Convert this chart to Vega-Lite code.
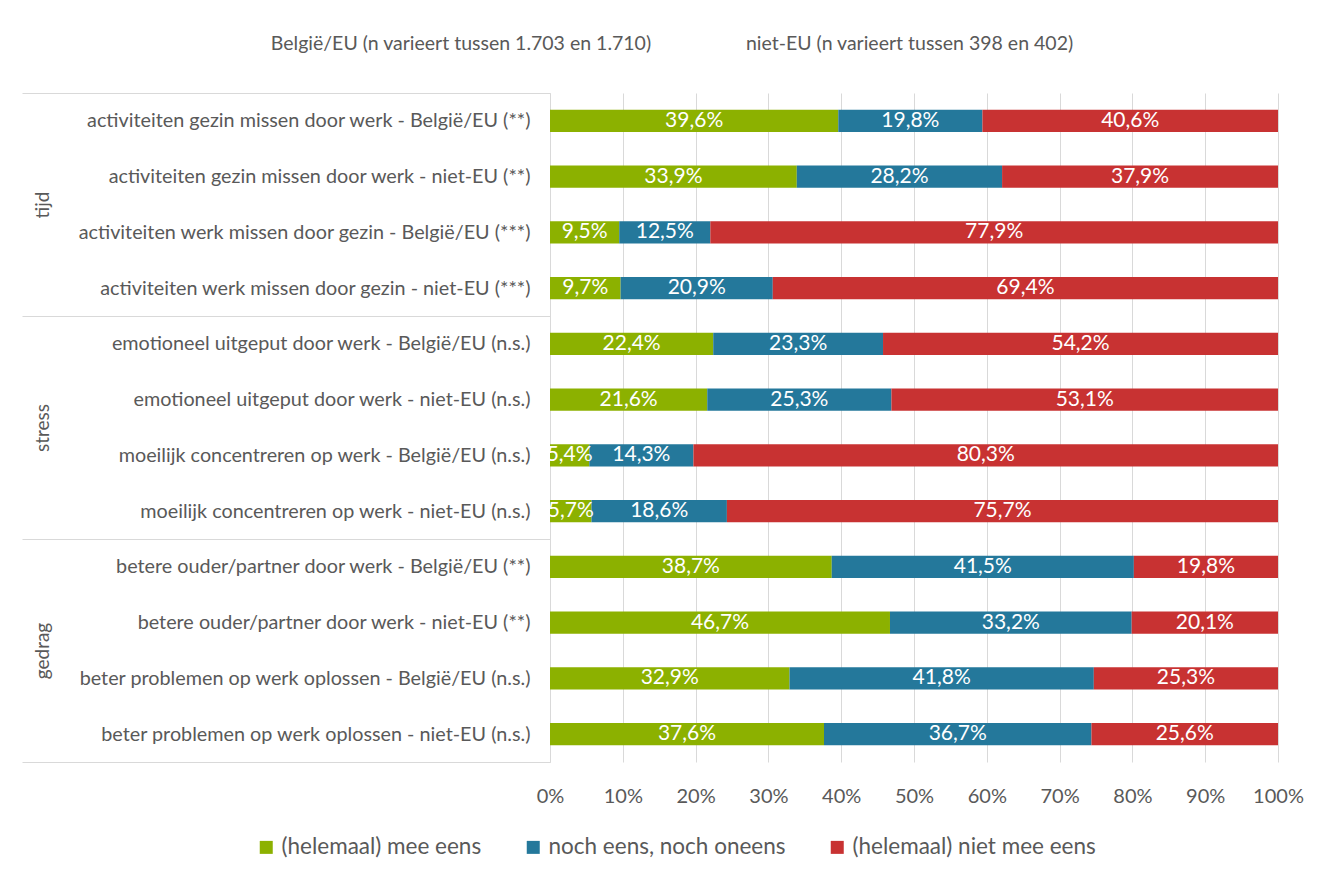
{
  "$schema": "https://vega.github.io/schema/vega-lite/v6.json",
  "autosize": {"type": "none"},
  "padding": {"left": 550, "top": 93, "right": 44, "bottom": 116},
  "width": 728,
  "height": 669,
  "background": "white",
  "title": {
    "text": "België/EU (n varieert tussen 1.703 en 1.710)\u00a0\u00a0\u00a0\u00a0\u00a0\u00a0\u00a0\u00a0\u00a0\u00a0\u00a0\u00a0\u00a0\u00a0\u00a0\u00a0\u00a0\u00a0\u00a0niet-EU (n varieert tussen 398 en 402)",
    "anchor": "middle",
    "frame": "group",
    "dx": -242,
    "offset": 29,
    "fontSize": 19.5,
    "fontWeight": "normal",
    "color": "#595959"
  },
  "config": {
    "font": "Lato",
    "view": {"stroke": null},
    "locale": {"number": {"decimal": ",", "thousands": ".", "grouping": [3], "currency": ["€", ""]}}
  },
  "layer": [
    {
      "data": {
        "values": [
          {"item": "activiteiten gezin missen door werk - België/EU (**)", "group": "tijd", "cat": "(helemaal) mee eens", "i": 1, "v": 0.396},
          {"item": "activiteiten gezin missen door werk - België/EU (**)", "group": "tijd", "cat": "noch eens, noch oneens", "i": 2, "v": 0.198},
          {"item": "activiteiten gezin missen door werk - België/EU (**)", "group": "tijd", "cat": "(helemaal) niet mee eens", "i": 3, "v": 0.406},
          {"item": "activiteiten gezin missen door werk - niet-EU (**)", "group": "tijd", "cat": "(helemaal) mee eens", "i": 1, "v": 0.339},
          {"item": "activiteiten gezin missen door werk - niet-EU (**)", "group": "tijd", "cat": "noch eens, noch oneens", "i": 2, "v": 0.282},
          {"item": "activiteiten gezin missen door werk - niet-EU (**)", "group": "tijd", "cat": "(helemaal) niet mee eens", "i": 3, "v": 0.379},
          {"item": "activiteiten werk missen door gezin - België/EU (***)", "group": "tijd", "cat": "(helemaal) mee eens", "i": 1, "v": 0.095},
          {"item": "activiteiten werk missen door gezin - België/EU (***)", "group": "tijd", "cat": "noch eens, noch oneens", "i": 2, "v": 0.125},
          {"item": "activiteiten werk missen door gezin - België/EU (***)", "group": "tijd", "cat": "(helemaal) niet mee eens", "i": 3, "v": 0.779},
          {"item": "activiteiten werk missen door gezin - niet-EU (***)", "group": "tijd", "cat": "(helemaal) mee eens", "i": 1, "v": 0.097},
          {"item": "activiteiten werk missen door gezin - niet-EU (***)", "group": "tijd", "cat": "noch eens, noch oneens", "i": 2, "v": 0.209},
          {"item": "activiteiten werk missen door gezin - niet-EU (***)", "group": "tijd", "cat": "(helemaal) niet mee eens", "i": 3, "v": 0.694},
          {"item": "emotioneel uitgeput door werk - België/EU (n.s.)", "group": "stress", "cat": "(helemaal) mee eens", "i": 1, "v": 0.224},
          {"item": "emotioneel uitgeput door werk - België/EU (n.s.)", "group": "stress", "cat": "noch eens, noch oneens", "i": 2, "v": 0.233},
          {"item": "emotioneel uitgeput door werk - België/EU (n.s.)", "group": "stress", "cat": "(helemaal) niet mee eens", "i": 3, "v": 0.542},
          {"item": "emotioneel uitgeput door werk - niet-EU (n.s.)", "group": "stress", "cat": "(helemaal) mee eens", "i": 1, "v": 0.216},
          {"item": "emotioneel uitgeput door werk - niet-EU (n.s.)", "group": "stress", "cat": "noch eens, noch oneens", "i": 2, "v": 0.253},
          {"item": "emotioneel uitgeput door werk - niet-EU (n.s.)", "group": "stress", "cat": "(helemaal) niet mee eens", "i": 3, "v": 0.531},
          {"item": "moeilijk concentreren op werk - België/EU (n.s.)", "group": "stress", "cat": "(helemaal) mee eens", "i": 1, "v": 0.054},
          {"item": "moeilijk concentreren op werk - België/EU (n.s.)", "group": "stress", "cat": "noch eens, noch oneens", "i": 2, "v": 0.143},
          {"item": "moeilijk concentreren op werk - België/EU (n.s.)", "group": "stress", "cat": "(helemaal) niet mee eens", "i": 3, "v": 0.803},
          {"item": "moeilijk concentreren op werk - niet-EU (n.s.)", "group": "stress", "cat": "(helemaal) mee eens", "i": 1, "v": 0.057},
          {"item": "moeilijk concentreren op werk - niet-EU (n.s.)", "group": "stress", "cat": "noch eens, noch oneens", "i": 2, "v": 0.186},
          {"item": "moeilijk concentreren op werk - niet-EU (n.s.)", "group": "stress", "cat": "(helemaal) niet mee eens", "i": 3, "v": 0.757},
          {"item": "betere ouder/partner door werk - België/EU (**)", "group": "gedrag", "cat": "(helemaal) mee eens", "i": 1, "v": 0.387},
          {"item": "betere ouder/partner door werk - België/EU (**)", "group": "gedrag", "cat": "noch eens, noch oneens", "i": 2, "v": 0.415},
          {"item": "betere ouder/partner door werk - België/EU (**)", "group": "gedrag", "cat": "(helemaal) niet mee eens", "i": 3, "v": 0.198},
          {"item": "betere ouder/partner door werk - niet-EU (**)", "group": "gedrag", "cat": "(helemaal) mee eens", "i": 1, "v": 0.467},
          {"item": "betere ouder/partner door werk - niet-EU (**)", "group": "gedrag", "cat": "noch eens, noch oneens", "i": 2, "v": 0.332},
          {"item": "betere ouder/partner door werk - niet-EU (**)", "group": "gedrag", "cat": "(helemaal) niet mee eens", "i": 3, "v": 0.201},
          {"item": "beter problemen op werk oplossen - België/EU (n.s.)", "group": "gedrag", "cat": "(helemaal) mee eens", "i": 1, "v": 0.329},
          {"item": "beter problemen op werk oplossen - België/EU (n.s.)", "group": "gedrag", "cat": "noch eens, noch oneens", "i": 2, "v": 0.418},
          {"item": "beter problemen op werk oplossen - België/EU (n.s.)", "group": "gedrag", "cat": "(helemaal) niet mee eens", "i": 3, "v": 0.253},
          {"item": "beter problemen op werk oplossen - niet-EU (n.s.)", "group": "gedrag", "cat": "(helemaal) mee eens", "i": 1, "v": 0.376},
          {"item": "beter problemen op werk oplossen - niet-EU (n.s.)", "group": "gedrag", "cat": "noch eens, noch oneens", "i": 2, "v": 0.367},
          {"item": "beter problemen op werk oplossen - niet-EU (n.s.)", "group": "gedrag", "cat": "(helemaal) niet mee eens", "i": 3, "v": 0.256}
        ]
      },
      "encoding": {
        "y": {
          "field": "item",
          "type": "nominal",
          "sort": null,
          "scale": {"paddingInner": 0, "paddingOuter": 0},
          "axis": {
            "title": null,
            "orient": "left",
            "labelFontSize": 19.8,
            "labelColor": "#595959",
            "labelLimit": 700,
            "domain": true,
            "domainColor": "#d9d9d9",
            "ticks": true,
            "tickBand": "extent",
            "tickSize": 528,
            "tickColor": "#d9d9d9",
            "tickOpacity": {
              "condition": {
                "test": "datum.extra || indexof(['activiteiten werk missen door gezin - niet-EU (***)', 'moeilijk concentreren op werk - niet-EU (n.s.)', 'beter problemen op werk oplossen - niet-EU (n.s.)'], datum.value) >= 0",
                "value": 1
              },
              "value": 0
            },
            "labelPadding": -508
          }
        }
      },
      "layer": [
        {
          "mark": {"type": "bar", "height": {"band": 0.4}},
          "encoding": {
            "x": {
              "field": "v",
              "type": "quantitative",
              "stack": "normalize",
              "scale": {"domain": [0, 1]},
              "axis": {
                "title": null,
                "format": ".0%",
                "values": [0, 0.1, 0.2, 0.3, 0.4, 0.5, 0.6, 0.7, 0.8, 0.9, 1],
                "labelFontSize": 20,
                "labelColor": "#595959",
                "labelPadding": 24,
                "labelFlush": false,
                "labelOverlap": false,
                "grid": true,
                "gridColor": "#d9d9d9",
                "domain": false,
                "ticks": false
              }
            },
            "color": {
              "field": "cat",
              "type": "nominal",
              "scale": {
                "domain": ["(helemaal) mee eens", "noch eens, noch oneens", "(helemaal) niet mee eens"],
                "range": ["#8CB100", "#24789B", "#C83232"]
              },
              "legend": {
                "orient": "none",
                "legendX": -295,
                "legendY": 743,
                "direction": "horizontal",
                "title": null,
                "symbolType": "square",
                "symbolSize": 169,
                "symbolStrokeWidth": 0,
                "symbolOpacity": 1,
                "labelFontSize": 22.5,
                "labelColor": "#595959",
                "labelLimit": 400,
                "labelOffset": 4,
                "columnPadding": 40
              }
            },
            "order": {"field": "i", "type": "quantitative"}
          }
        },
        {
          "mark": {"type": "text", "color": "white", "fontSize": 21},
          "encoding": {
            "x": {"field": "v", "type": "quantitative", "stack": "normalize", "bandPosition": 0.5},
            "detail": {"field": "cat", "type": "nominal"},
            "order": {"field": "i", "type": "quantitative"},
            "text": {"field": "v", "type": "quantitative", "format": ".1%"}
          }
        }
      ]
    },
    {
      "data": {"values": [{"group": "tijd"}, {"group": "stress"}, {"group": "gedrag"}]},
      "mark": {"type": "point", "opacity": 0},
      "encoding": {
        "y": {
          "field": "group",
          "type": "nominal",
          "sort": null,
          "scale": {"paddingInner": 0, "paddingOuter": 0},
          "axis": {
            "orient": "left",
            "title": null,
            "ticks": false,
            "domain": false,
            "labelAngle": -90,
            "labelAlign": "center",
            "labelBaseline": "bottom",
            "labelPadding": 498,
            "labelFontSize": 19,
            "labelColor": "#595959"
          }
        }
      }
    }
  ],
  "resolve": {"scale": {"y": "independent"}}
}
